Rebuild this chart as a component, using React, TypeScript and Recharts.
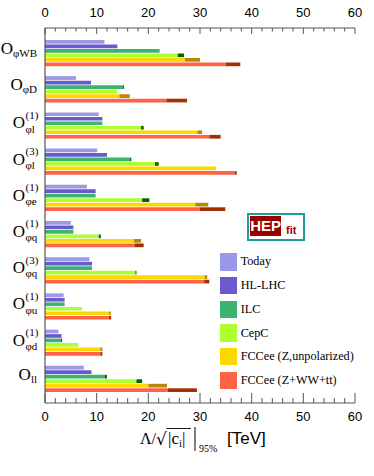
import React from 'react';
import { BarChart, Bar, XAxis, YAxis } from 'recharts';

// ---------- data ----------
const categories = ['phiWB', 'phiD', 'phil1', 'phil3', 'phie1', 'phiq1', 'phiq3', 'phiu1', 'phid1', 'll'];
const labelSubs = ['φWB', 'φD', 'φl', 'φl', 'φe', 'φq', 'φq', 'φu', 'φd', 'll'];
const labelSups = ['', '', '(1)', '(3)', '(1)', '(1)', '(3)', '(1)', '(1)', ''];

const seriesNames = ['Today', 'HL-LHC', 'ILC', 'CepC', 'FCCee (Z,unpolarized)', 'FCCee (Z+WW+tt)'];

const today = [11.5, 6.0, 10.4, 10.1, 8.1, 5.0, 8.6, 3.6, 2.6, 7.5];
const hllhc = [14.0, 8.9, 11.1, 12.0, 9.8, 5.5, 9.1, 3.8, 3.2, 9.0];
const ilcMain = [22.2, 15.1, 11.1, 16.4, 9.8, 5.5, 9.1, 3.8, 3.1, 11.5];
const ilcFull = [22.2, 15.3, 11.1, 16.7, 9.8, 5.5, 9.1, 3.8, 3.3, 12.0];
const cepcMain = [25.7, 13.9, 18.6, 21.3, 18.8, 10.4, 17.5, 7.2, 6.4, 17.7];
const cepcFull = [26.9, 13.9, 19.1, 22.0, 20.2, 10.8, 17.7, 7.2, 6.4, 18.8];
const fccZMain = [27.1, 14.4, 29.5, 33.1, 29.1, 17.2, 30.9, 12.4, 10.7, 20.0];
const fccZFull = [30.0, 16.4, 30.4, 33.1, 31.6, 18.6, 31.4, 12.7, 11.1, 23.6];
const fccAllMain = [35.0, 23.5, 31.8, 36.7, 30.0, 17.3, 30.8, 12.4, 10.7, 23.8];
const fccAllFull = [37.8, 27.5, 34.0, 37.1, 34.9, 19.1, 31.8, 12.8, 11.1, 29.4];

const xTicks = [0, 2, 4, 6, 8, 10, 12, 14, 16, 18, 20, 22, 24, 26, 28, 30, 32, 34, 36, 38, 40, 42, 44, 46, 48, 50, 52, 54, 56, 58, 60];
const xMajorTicks = [0, 10, 20, 30, 40, 50, 60];

// ---------- styles ----------
const mainColors = ['#9999e8', '#6a5acd', '#3cb371', '#adff2f', '#ffd700', '#ff6347'];
const darkColors = ['#9999e8', '#6a5acd', '#17622f', '#006400', '#b8860b', '#a33000'];
const SERIF = "'Liberation Serif', 'Times New Roman', serif";
const SANS = "'Liberation Sans', Arial, Helvetica, sans-serif";
const FRAME = '#555';

const diff = (a: number, b: number) => Math.max(0, Math.round((a - b) * 100) / 100);

const rows = categories.map((name, i) => ({
  name,
  s0a: today[i],
  s1a: hllhc[i],
  s2a: ilcMain[i],
  s2b: diff(ilcFull[i], ilcMain[i]),
  s3a: cepcMain[i],
  s3b: diff(cepcFull[i], cepcMain[i]),
  s4a: fccZMain[i],
  s4b: diff(fccZFull[i], fccZMain[i]),
  s5a: fccAllMain[i],
  s5b: diff(fccAllFull[i], fccAllMain[i]),
}));

const XTick = (props: any) => {
  const { x, y, payload, side } = props;
  const v = payload.value;
  const major = xMajorTicks.includes(v);
  if (side === 'top') {
    const len = major ? 6 : 3.5;
    return (
      <g>
        <line x1={x} x2={x} y1={y} y2={y + len} stroke={FRAME} strokeWidth={1} />
        {major && (
          <text x={x} y={y - 11} textAnchor="middle" fontFamily={SANS} fontSize={13} fill="#000">
            {v}
          </text>
        )}
      </g>
    );
  }
  const len = major ? 10 : 5;
  return (
    <g>
      <line x1={x} x2={x} y1={y} y2={y - len} stroke={FRAME} strokeWidth={1} />
      {major && (
        <text x={x} y={y + 18} textAnchor="middle" fontFamily={SANS} fontSize={13} fill="#000">
          {v}
        </text>
      )}
    </g>
  );
};

const YTick = (props: any) => {
  const { x, y, payload } = props;
  const i = categories.indexOf(payload.value);
  const sub = labelSubs[i];
  const sup = labelSups[i];
  if (!sup) {
    return (
      <text x={x - 8} y={y + 0.8} textAnchor="end" fontFamily={SERIF} fill="#000">
        <tspan fontSize={17}>O</tspan>
        <tspan fontSize={11} dy={3}>{sub}</tspan>
      </text>
    );
  }
  return (
    <g fontFamily={SERIF} fill="#000">
      <text x={x - 20} y={y + 2.8} textAnchor="end" fontSize={17}>O</text>
      <text x={x - 19.5} y={y + 7} fontSize={11}>{sub}</text>
      <text x={x - 19.5} y={y - 6.8} fontSize={11}>{sup}</text>
    </g>
  );
};

const AxisTitle = (props: any) => {
  const vb = props.viewBox && props.viewBox.width ? props.viewBox : { x: 45, y: 403, width: 310, height: 73 };
  const left = vb.x + vb.width / 2 - 60;
  const base = vb.y + 41;
  return (
    <g fill="#000">
      <text x={left} y={base} fontFamily={SERIF} fontSize={16}>Λ/</text>
      <text x={left + 16} y={base + 1} fontFamily="'DejaVu Sans'" fontSize={17}>√</text>
      <line x1={left + 26.5} x2={left + 51} y1={base - 15.5} y2={base - 15.5} stroke="#000" strokeWidth={0.9} />
      <text x={left + 28} y={base} fontFamily={SERIF} fontSize={17}>
        |c<tspan fontSize={11} dy={3}>i</tspan>
        <tspan dy={-3}>|</tspan>
      </text>
      <line x1={left + 55} x2={left + 55} y1={base - 17} y2={base + 7} stroke="#000" strokeWidth={1} />
      <text x={left + 59} y={base + 8} fontFamily={SERIF} fontSize={10}>95%</text>
      <text x={left + 87} y={base} fontFamily={SANS} fontSize={17}>[TeV]</text>
    </g>
  );
};

export default function App() {
  return (
    <div style={{ position: 'absolute', left: 0, top: 0, width: 374, height: 476, background: '#fff' }}>
      <BarChart
        width={374}
        height={476}
        data={rows}
        layout="vertical"
        margin={{ top: 0, right: 19, bottom: 0, left: 0 }}
        barSize={3.7}
        barGap={0.8}
        barCategoryGap={10}
      >
        <XAxis
          xAxisId="top"
          orientation="top"
          type="number"
          domain={[0, 60]}
          allowDataOverflow={true}
          ticks={xTicks}
          interval={0}
          height={28}
          tickSize={0}
          tickMargin={0}
          tickLine={false}
          axisLine={{ stroke: FRAME, strokeWidth: 1.2 }}
          tick={(p: any) => <XTick {...p} side="top" />}
        />
        <XAxis
          xAxisId="bottom"
          orientation="bottom"
          type="number"
          domain={[0, 60]}
          allowDataOverflow={true}
          ticks={xTicks}
          interval={0}
          height={73}
          tickSize={0}
          tickMargin={0}
          tickLine={false}
          axisLine={{ stroke: FRAME, strokeWidth: 1.2 }}
          tick={(p: any) => <XTick {...p} side="bottom" />}
          label={<AxisTitle />}
        />
        <YAxis
          yAxisId="left"
          type="category"
          dataKey="name"
          width={45}
          padding={{ top: 7, bottom: 6 }}
          tickSize={0}
          tickMargin={0}
          tickLine={false}
          interval={0}
          axisLine={{ stroke: FRAME, strokeWidth: 1.2 }}
          tick={(p: any) => <YTick {...p} />}
        />
        <YAxis
          yAxisId="right"
          orientation="right"
          type="category"
          dataKey="name"
          width={0}
          padding={{ top: 7, bottom: 6 }}
          tick={false}
          tickLine={false}
          axisLine={{ stroke: FRAME, strokeWidth: 1.2 }}
        />
        <Bar xAxisId="bottom" yAxisId="left" stackId="s0" dataKey="s0a" fill={mainColors[0]} isAnimationActive={false} />
        <Bar xAxisId="bottom" yAxisId="left" stackId="s1" dataKey="s1a" fill={mainColors[1]} isAnimationActive={false} />
        <Bar xAxisId="bottom" yAxisId="left" stackId="s2" dataKey="s2a" fill={mainColors[2]} isAnimationActive={false} />
        <Bar xAxisId="bottom" yAxisId="left" stackId="s2" dataKey="s2b" fill={darkColors[2]} isAnimationActive={false} />
        <Bar xAxisId="bottom" yAxisId="left" stackId="s3" dataKey="s3a" fill={mainColors[3]} isAnimationActive={false} />
        <Bar xAxisId="bottom" yAxisId="left" stackId="s3" dataKey="s3b" fill={darkColors[3]} isAnimationActive={false} />
        <Bar xAxisId="bottom" yAxisId="left" stackId="s4" dataKey="s4a" fill={mainColors[4]} isAnimationActive={false} />
        <Bar xAxisId="bottom" yAxisId="left" stackId="s4" dataKey="s4b" fill={darkColors[4]} isAnimationActive={false} />
        <Bar xAxisId="bottom" yAxisId="left" stackId="s5" dataKey="s5a" fill={mainColors[5]} isAnimationActive={false} />
        <Bar xAxisId="bottom" yAxisId="left" stackId="s5" dataKey="s5b" fill={darkColors[5]} isAnimationActive={false} />
      </BarChart>

      {/* HEPfit logo */}
      <div
        style={{
          position: 'absolute',
          left: 247,
          top: 212.5,
          width: 58,
          height: 28,
          border: '2.5px solid #1c9c9c',
          boxSizing: 'border-box',
          background: '#fff',
        }}
      >
        <div
          style={{
            position: 'absolute',
            left: 1.2,
            top: 1.7,
            width: 31,
            height: 20,
            background: '#990000',
            color: '#fff',
            fontFamily: SANS,
            fontWeight: 'bold',
            fontSize: 15,
            lineHeight: '20px',
            textAlign: 'center',
          }}
        >
          HEP
        </div>
        <div
          style={{
            position: 'absolute',
            left: 37,
            top: 9,
            fontFamily: SANS,
            fontWeight: 'bold',
            fontSize: 11,
            lineHeight: '12px',
            color: '#990000',
          }}
        >
          fit
        </div>
      </div>

      {/* Legend */}
      <div style={{ position: 'absolute', left: 220, top: 253.3 }}>
        {seriesNames.map((n, i) => (
          <div
            key={n}
            style={{
              position: 'absolute',
              left: 0,
              top: i * 23.7,
              height: 17.4,
              display: 'flex',
              alignItems: 'center',
              whiteSpace: 'nowrap',
            }}
          >
            <div style={{ width: 17.4, height: 17.4, background: mainColors[i] }} />
            <span style={{ marginLeft: 3.3, fontFamily: SERIF, fontSize: 12.2, color: '#000' }}>{n}</span>
          </div>
        ))}
      </div>
    </div>
  );
}
